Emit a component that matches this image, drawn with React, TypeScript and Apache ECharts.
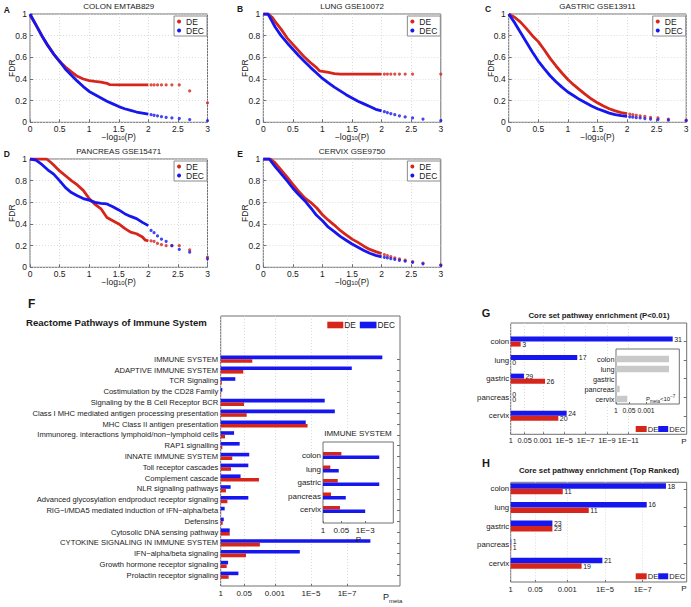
import React, { useEffect, useRef } from 'react';
import * as echarts from 'echarts';

const FONT = '"Liberation Sans", Arial, Helvetica, sans-serif';
const RED = '#d6261c';
const BLUE = '#1616ee';
const GREY = '#c9c9c9';
const FRAME = '#707070';
const INK = '#1a1a1a';

type Pt = [number, number];

// ---------- Panels A-E: FDR vs -log10(P) ----------
const colonDE: Pt[] = [[0,0.99],[0.1,0.9],[0.2,0.8],[0.3,0.71],[0.4,0.63],[0.5,0.56],[0.6,0.51],[0.7,0.465],[0.8,0.425],[0.9,0.4],[1.0,0.385],[1.1,0.377],[1.2,0.37],[1.3,0.36],[1.35,0.347],[1.5,0.345],[1.7,0.345],[1.9,0.345],[2.0,0.345],[2.046,0.345],[2.097,0.345],[2.155,0.345],[2.222,0.345],[2.301,0.345],[2.398,0.345],[2.523,0.345],[2.699,0.29],[3,0.18]];
const colonDEC: Pt[] = [[0,1],[0.1,0.9],[0.2,0.8],[0.3,0.71],[0.4,0.63],[0.5,0.565],[0.6,0.49],[0.7,0.435],[0.8,0.38],[0.9,0.33],[1.0,0.285],[1.1,0.255],[1.2,0.225],[1.3,0.195],[1.4,0.17],[1.5,0.145],[1.6,0.125],[1.7,0.11],[1.8,0.095],[1.9,0.085],[2.0,0.075],[2.046,0.07],[2.097,0.065],[2.155,0.06],[2.222,0.052],[2.301,0.045],[2.398,0.04],[2.523,0.035],[2.699,0.025],[3,0.015]];
const lungDE: Pt[] = [[0,1],[0.08,1],[0.15,0.97],[0.2,0.93],[0.3,0.86],[0.4,0.78],[0.5,0.72],[0.6,0.66],[0.7,0.6],[0.8,0.55],[0.9,0.505],[0.95,0.475],[1.0,0.47],[1.1,0.46],[1.2,0.45],[1.3,0.445],[1.5,0.445],[1.7,0.445],[1.9,0.445],[2.0,0.445],[2.046,0.445],[2.097,0.445],[2.155,0.445],[2.222,0.445],[2.301,0.445],[2.398,0.445],[2.523,0.445],[3,0.445]];
const lungDEC: Pt[] = [[0,1],[0.08,1],[0.15,0.93],[0.2,0.88],[0.3,0.8],[0.4,0.735],[0.5,0.675],[0.6,0.615],[0.7,0.56],[0.8,0.505],[0.9,0.455],[1.0,0.405],[1.1,0.365],[1.2,0.325],[1.3,0.29],[1.4,0.255],[1.5,0.225],[1.6,0.195],[1.7,0.17],[1.8,0.145],[1.9,0.12],[2.0,0.105],[2.046,0.098],[2.097,0.09],[2.155,0.08],[2.222,0.07],[2.301,0.06],[2.398,0.05],[2.523,0.04],[2.699,0.03],[3,0.015]];
const gastricDE: Pt[] = [[0,1],[0.1,0.97],[0.2,0.925],[0.3,0.865],[0.4,0.8],[0.5,0.745],[0.6,0.67],[0.7,0.59],[0.8,0.52],[0.9,0.455],[1.0,0.395],[1.1,0.345],[1.2,0.3],[1.3,0.255],[1.4,0.215],[1.5,0.18],[1.6,0.15],[1.7,0.125],[1.8,0.105],[1.9,0.09],[2.0,0.08],[2.046,0.075],[2.097,0.07],[2.155,0.065],[2.222,0.06],[2.301,0.055],[2.398,0.045],[2.523,0.04],[2.699,0.03],[3,0.02]];
const gastricDEC: Pt[] = [[0,1],[0.1,0.92],[0.2,0.83],[0.3,0.74],[0.4,0.65],[0.5,0.565],[0.6,0.495],[0.7,0.43],[0.8,0.375],[0.9,0.325],[1.0,0.28],[1.1,0.245],[1.2,0.21],[1.3,0.18],[1.4,0.15],[1.5,0.125],[1.6,0.105],[1.7,0.085],[1.8,0.07],[1.9,0.062],[2.0,0.055],[2.046,0.05],[2.097,0.047],[2.155,0.043],[2.222,0.04],[2.301,0.035],[2.398,0.03],[2.523,0.025],[2.699,0.02],[3,0.015]];
const pancreasDE: Pt[] = [[0,1],[0.28,1],[0.35,0.97],[0.4,0.945],[0.5,0.89],[0.6,0.845],[0.7,0.8],[0.8,0.76],[0.9,0.71],[1.0,0.635],[1.1,0.58],[1.2,0.54],[1.3,0.46],[1.4,0.43],[1.5,0.4],[1.6,0.36],[1.7,0.325],[1.8,0.31],[1.9,0.28],[1.95,0.25],[2.0,0.245],[2.046,0.245],[2.097,0.24],[2.155,0.22],[2.222,0.21],[2.301,0.2],[2.398,0.2],[2.523,0.2],[2.699,0.16],[3,0.095]];
const pancreasDEC: Pt[] = [[0,1],[0.1,0.99],[0.2,0.95],[0.3,0.9],[0.4,0.86],[0.5,0.8],[0.6,0.735],[0.7,0.69],[0.8,0.66],[0.9,0.635],[1.0,0.62],[1.1,0.6],[1.2,0.59],[1.3,0.585],[1.4,0.56],[1.5,0.53],[1.6,0.495],[1.7,0.47],[1.8,0.45],[1.9,0.415],[2.0,0.385],[2.046,0.34],[2.097,0.32],[2.155,0.29],[2.222,0.26],[2.301,0.24],[2.398,0.2],[2.523,0.165],[2.699,0.14],[3,0.078]];
const cervixDE: Pt[] = [[0,1],[0.12,1],[0.2,0.965],[0.3,0.9],[0.4,0.835],[0.5,0.765],[0.6,0.7],[0.7,0.64],[0.8,0.6],[0.9,0.55],[1.0,0.485],[1.1,0.435],[1.2,0.39],[1.3,0.34],[1.4,0.3],[1.5,0.26],[1.6,0.23],[1.7,0.195],[1.8,0.165],[1.9,0.145],[2.0,0.127],[2.046,0.118],[2.097,0.108],[2.155,0.098],[2.222,0.088],[2.301,0.078],[2.398,0.066],[2.523,0.053],[2.699,0.038],[3,0.022]];
const cervixDEC: Pt[] = [[0,1],[0.1,1],[0.2,0.93],[0.3,0.865],[0.4,0.8],[0.5,0.73],[0.6,0.67],[0.7,0.615],[0.8,0.55],[0.9,0.48],[1.0,0.43],[1.1,0.37],[1.2,0.33],[1.3,0.285],[1.4,0.25],[1.5,0.215],[1.6,0.185],[1.7,0.155],[1.8,0.13],[1.9,0.11],[2.0,0.097],[2.046,0.092],[2.097,0.086],[2.155,0.08],[2.222,0.073],[2.301,0.065],[2.398,0.056],[2.523,0.046],[2.699,0.032],[3,0.018]];

const fdrXTicks = [0, 0.5, 1, 1.5, 2, 2.5, 3];

// ---------- Panel F: Reactome pathways (-log10 Pmeta) ----------
const pathways = [
  'IMMUNE SYSTEM',
  'ADAPTIVE IMMUNE SYSTEM',
  'TCR Signaling',
  'Costimulation by the CD28 Family',
  'Signaling by the B Cell Receptor BCR',
  'Class I MHC mediated antigen processing presentation',
  'MHC Class II antigen presentation',
  'Immunoreg. interactions lymphoid/non\u2212lymphoid cells',
  'RAP1 signalling',
  'INNATE IMMUNE SYSTEM',
  'Toll receptor cascades',
  'Complement cascade',
  'NLR signaling pathways',
  'Advanced glycosylation endproduct receptor signaling',
  'RIG\u2212I/MDA5 mediated induction of IFN\u2212alpha/beta',
  'Defensins',
  'Cytosolic DNA sensing pathway',
  'CYTOKINE SIGNALING IN IMMUNE SYSTEM',
  'IFN\u2212alpha/beta signaling',
  'Growth hormone receptor signaling',
  'Prolactin receptor signaling',
];
const pathwayDE = [1.75,1.25,0.06,0.02,1.29,1.44,4.81,0.24,0.09,0.64,0.57,2.12,0.29,0.37,0.02,0.11,0.5,2.17,1.4,0.33,0.44];
const pathwayDEC = [8.95,7.26,0.81,0.09,5.76,6.32,4.71,0.74,1.05,1.58,1.53,1.1,0.55,1.53,0.22,0.17,0.5,8.29,4.38,0.41,0.98];
const pTicks = [0, 1.30103, 3, 5, 7];
const pTickLabels = ['1', '0.05', '0.001', '1E\u22125', '1E\u22127'];

// inset of F: IMMUNE SYSTEM per tissue
const tissues = ['colon', 'lung', 'gastric', 'pancreas', 'cervix'];
const immuneDE = [1.31, 0.52, 1.05, 0.57, 1.21];
const immuneDEC = [4.0, 1.12, 4.0, 1.62, 3.0];
const insetTicks = [0, 1.30103, 3];
const insetTickLabelsF = ['1', '0.05', '1E\u22123'];
const insetTickLabelsG = ['1', '0.05', '0.001'];

// ---------- Panel G: core set enrichment (P<0.01) ----------
const coreDE01 = [0.93, 0, 3.21, 0, 4.45];
const coreDEC01 = [15.14, 6.22, 1.24, 0, 5.23];
const countDE01 = [3, 0, 26, 0, 20];
const countDEC01 = [31, 17, 29, 0, 24];
const gTicks = [0, 1.30103, 3, 5, 7, 9, 11];
const gTickLabels = ['1', '0.05', '0.001', '1E\u22125', '1E\u22127', '1E\u22129', '1E\u221211'];
const metaBelow7 = [5.3, 5.3, 0, 0.37, 1.13];

// ---------- Panel H: core set enrichment (Top Ranked) ----------
const coreDETop = [2.76, 4.14, 2.21, 0.03, 3.76];
const coreDECTop = [8.23, 7.21, 2.21, 0.03, 4.86];
const countDETop = [11, 11, 23, 1, 19];
const countDECTop = [18, 16, 23, 1, 21];

const legendNames = ['DE', 'DEC'];

function buildOption() {
  const grids: any[] = [];
  const xAxes: any[] = [];
  const yAxes: any[] = [];
  const series: any[] = [];
  const legends: any[] = [];
  const graphics: any[] = [];

  const text = (x: number, y: number, t: string, o: any = {}) => {
    graphics.push({
      type: 'text', x, y, z: 50, rotation: o.rotation || 0,
      style: {
        text: t, fill: INK,
        fontFamily: FONT, fontSize: o.size || 8, fontWeight: o.bold ? 'bold' : 'normal',
        align: o.align || 'center', textAlign: o.align || 'center',
        verticalAlign: 'middle', textVerticalAlign: 'middle',
        rich: o.rich,
      },
    });
  };
  const rect = (x: number, y: number, w: number, h: number, fill: string) => {
    graphics.push({ type: 'rect', z: 50, shape: { x, y, width: w, height: h }, style: { fill } });
  };

  // ----- scatter panels -----
  const W = 177.5, H = 108.3;
  const sp = [
    { L: 'A', title: 'COLON EMTAB829', de: colonDE, dec: colonDEC, left: 30, top: 14, lx: 6.7, ly: 10 },
    { L: 'B', title: 'LUNG GSE10072', de: lungDE, dec: lungDEC, left: 263.3, top: 14, lx: 240, ly: 9 },
    { L: 'C', title: 'GASTRIC GSE13911', de: gastricDE, dec: gastricDEC, left: 508.7, top: 14, lx: 488, ly: 9 },
    { L: 'D', title: 'PANCREAS GSE15471', de: pancreasDE, dec: pancreasDEC, left: 30, top: 159, lx: 6.7, ly: 154 },
    { L: 'E', title: 'CERVIX GSE9750', de: cervixDE, dec: cervixDEC, left: 263.3, top: 159, lx: 240, ly: 153.5 },
  ];
  sp.forEach((p) => {
    const gi = grids.length;
    grids.push({ left: p.left, top: p.top, width: W, height: H, show: true, borderColor: FRAME, borderWidth: 1, outerBoundsMode: 'none' });
    xAxes.push({
      gridIndex: gi, type: 'value', min: fdrXTicks[0], max: fdrXTicks[fdrXTicks.length - 1], interval: 0.5,
      axisLine: { show: false },
      axisTick: { show: true, inside: true, length: 3, lineStyle: { color: FRAME } },
      axisLabel: { fontFamily: FONT, fontSize: 8.5, color: INK, margin: 2 },
      splitLine: { show: true, lineStyle: { color: '#d4d4d4', type: [1, 2], width: 0.8 } },
    });
    yAxes.push({
      gridIndex: gi, type: 'value', min: 0, max: 1, interval: 0.2,
      axisLine: { show: false },
      axisTick: { show: true, inside: true, length: 3, lineStyle: { color: FRAME } },
      axisLabel: { fontFamily: FONT, fontSize: 8.5, color: INK, margin: 3 },
      splitLine: { show: true, lineStyle: { color: '#d4d4d4', type: [1, 2], width: 0.8 } },
    });
    const curves: [string, Pt[], string][] = [[legendNames[0], p.de, RED], [legendNames[1], p.dec, BLUE]];
    curves.forEach(([name, pts, color]) => {
      series.push({
        type: 'line', name, xAxisIndex: gi, yAxisIndex: gi,
        data: pts.filter((q) => q[0] <= 2.0001), showSymbol: false, symbol: 'none',
        lineStyle: { color, width: 2.8 }, itemStyle: { color }, silent: true, z: 3,
      });
      series.push({
        type: 'scatter', name, xAxisIndex: gi, yAxisIndex: gi,
        data: pts.filter((q) => q[0] > 2.0001), symbol: 'circle', symbolSize: 3.2,
        itemStyle: { color }, silent: true, z: 3,
      });
    });
    legends.push({
      data: legendNames, orient: 'vertical', right: 691 - (p.left + W) + 0.5, top: p.top + 2,
      icon: 'circle', itemWidth: 4, itemHeight: 4, itemGap: 0, padding: [1, 3, 1, 3],
      borderColor: '#8a8a8a', borderWidth: 1, backgroundColor: '#fff', selectedMode: false,
      textStyle: { fontFamily: FONT, fontSize: 8.5, color: INK, lineHeight: 8 }, z: 10,
    });
    text(p.left + W / 2, p.top - 8, p.title, { size: 8 });
    text(p.lx, p.ly, p.L, { size: 8.5, bold: true });
    text(p.left - 18, p.top + H / 2, 'FDR', { size: 8.5, rotation: Math.PI / 2 });
    text(p.left + W / 2, p.top + H + 14.5, '{a|\u2212log}{s|10}{a|(P)}', {
      rich: {
        a: { fontFamily: FONT, fontSize: 8.5, lineHeight: 9, fill: INK, verticalAlign: 'top' },
        s: { fontFamily: FONT, fontSize: 6, lineHeight: 6, fill: INK, verticalAlign: 'bottom' },
      },
    });
  });

  // ----- bar panels -----
  type BarSer = { name: string; data: number[]; color: string; labels?: number[]; dy?: number };
  const barPanel = (c: {
    l: number; t: number; r: number; b: number; ymax: number; firstPos: number; cats: string[];
    xmax: number; ticks: number[]; tickLabels: string[]; grid: boolean; sers: BarSer[]; barWidth: number;
    rightTicks: boolean; catSize: number; catMargin: number; z: number; bg?: string; tickSize: number;
  }) => {
    const fi = grids.length;
    grids.push({ left: c.l, top: c.t, width: c.r - c.l, height: c.b - c.t, show: true, borderColor: FRAME, borderWidth: 1, backgroundColor: c.bg || 'transparent', z: c.z, outerBoundsMode: 'none' });
    xAxes.push({
      gridIndex: fi, type: 'value', min: 0, max: c.xmax, z: c.z,
      axisLine: { show: false },
      axisTick: { show: true, inside: true, length: 2, customValues: c.ticks, lineStyle: { color: FRAME } },
      axisLabel: {
        customValues: c.ticks, fontFamily: FONT, fontSize: c.tickSize, color: INK, margin: 3, hideOverlap: false,
        formatter: (v: number) => {
          const i = c.ticks.findIndex((tv) => Math.abs(tv - v) < 1e-6);
          return i >= 0 ? c.tickLabels[i] : '';
        },
      },
      splitLine: { show: c.grid, lineStyle: { color: '#d4d4d4', type: [1, 2], width: 0.8 } },
    });
    yAxes.push({ gridIndex: fi, type: 'value', min: 0, max: c.ymax, show: false });
    // data grid
    const s = (c.b - c.t) / c.ymax;
    const n = c.cats.length;
    const bottomY = c.b - (c.firstPos - 0.5) * s;
    const di = grids.length;
    grids.push({ left: c.l, top: bottomY - n * s, width: c.r - c.l, height: n * s, show: false, z: c.z, outerBoundsMode: 'none' });
    xAxes.push({ gridIndex: di, type: 'value', min: 0, max: c.xmax, show: false });
    const yi = yAxes.length;
    yAxes.push({
      gridIndex: di, type: 'category', data: c.cats, inverse: true, z: c.z,
      axisLine: { show: false }, axisTick: { show: false },
      axisLabel: { interval: 0, hideOverlap: false, fontFamily: FONT, fontSize: c.catSize, color: INK, margin: c.catMargin },
    });
    if (c.rightTicks) {
      yAxes.push({
        gridIndex: di, type: 'category', data: c.cats, inverse: true, position: 'right', z: c.z,
        axisLine: { show: false }, axisLabel: { show: false },
        axisTick: { show: true, inside: true, alignWithLabel: true, interval: 0, length: 3, lineStyle: { color: FRAME } },
      });
    }
    c.sers.forEach((se) => {
      series.push({
        type: 'bar', name: se.name, xAxisIndex: xAxes.length - 1, yAxisIndex: yi,
        data: se.data, barWidth: c.barWidth, barGap: '0%', silent: true, z: c.z + 2,
        itemStyle: { color: se.color },
        labelLayout: { hideOverlap: false },
        label: se.labels
          ? {
              show: true, position: 'right', distance: 1.5, offset: [0, se.dy || 0],
              fontFamily: FONT, fontSize: 7, lineHeight: 7, color: INK,
              formatter: (pp: any) => String(se.labels![pp.dataIndex]),
            }
          : { show: false },
      });
    });
  };

  // manual bar legend (tight spacing as in the figure)
  const barLegend = (x: number, cy: number, w1: number, w2: number, h: number, fs: number, tw: number) => {
    rect(x, cy - h / 2, w1, h, RED);
    text(x + w1 + 1, cy, legendNames[0], { size: fs, align: 'left' });
    const x2 = x + w1 + 1 + tw;
    rect(x2, cy - h / 2, w2, h, BLUE);
    text(x2 + w2 + 1, cy, legendNames[1], { size: fs, align: 'left' });
  };

  // F main
  barPanel({
    l: 220.7, t: 316, r: 400, b: 586, ymax: 25, firstPos: 1, cats: pathways, xmax: 9.93,
    ticks: pTicks, tickLabels: pTickLabels, grid: true, barWidth: 3.6, rightTicks: true,
    catSize: 7.6, catMargin: 2.5, z: 1, tickSize: 8,
    sers: [
      { name: 'DEC', data: pathwayDEC, color: BLUE },
      { name: 'DE', data: pathwayDE, color: RED },
    ],
  });
  barLegend(327.3, 325, 16, 16.7, 6.6, 8.3, 15.5);
  text(31.7, 304, 'F', { size: 12, bold: true });
  text(26, 322, 'Reactome Pathways of Immune System', { size: 9.6, bold: true, align: 'left' });
  text(383, 597, '{p|P}{s|meta}', {
    align: 'left',
    rich: {
      p: { fontFamily: FONT, fontSize: 9, fill: INK },
      s: { fontFamily: FONT, fontSize: 6, fill: INK, padding: [8, 0, 0, 0] },
    },
  });

  // F inset
  barPanel({
    l: 323, t: 442, r: 393.3, b: 523, ymax: 6, firstPos: 1, cats: tissues, xmax: 5,
    ticks: insetTicks, tickLabels: insetTickLabelsF, grid: false, barWidth: 3.5, rightTicks: false,
    catSize: 8, catMargin: 2, z: 6, bg: '#fff', tickSize: 8,
    sers: [
      { name: 'DE', data: immuneDE, color: RED },
      { name: 'DEC', data: immuneDEC, color: BLUE },
    ],
  });
  text(358, 433, 'IMMUNE SYSTEM', { size: 8 });
  text(358.3, 539, 'P', { size: 8 });

  // G
  barPanel({
    l: 510.7, t: 323, r: 686.7, b: 434.3, ymax: 6, firstPos: 1, cats: tissues, xmax: 16.45,
    ticks: gTicks, tickLabels: gTickLabels, grid: true, barWidth: 5, rightTicks: true,
    catSize: 7.8, catMargin: 1.5, z: 1, tickSize: 7.4,
    sers: [
      { name: 'DEC', data: coreDEC01, color: BLUE, labels: countDEC01, dy: -0.6 },
      { name: 'DE', data: coreDE01, color: RED, labels: countDE01, dy: 4 },
    ],
  });
  barLegend(635.7, 429, 11, 10, 6, 7.6, 10.5);
  text(599, 315, 'Core set pathway enrichment (P<0.01)', { size: 7.8, bold: true });
  text(684, 441, 'P', { size: 8 });

  // G inset
  barPanel({
    l: 616, t: 349, r: 679.3, b: 404, ymax: 5.5, firstPos: 0.5, cats: tissues, xmax: 6.33,
    ticks: insetTicks, tickLabels: insetTickLabelsG, grid: false, barWidth: 6.5, rightTicks: false,
    catSize: 7.3, catMargin: 1.5, z: 6, bg: '#fff', tickSize: 6.8,
    sers: [{ name: 'Pmeta<1E-7', data: metaBelow7, color: GREY }],
  });
  text(646, 399, '{p|P}{s|meta}{p|<10}{u|\u22127}', {
    align: 'left',
    rich: {
      p: { fontFamily: FONT, fontSize: 6, fill: INK },
      s: { fontFamily: FONT, fontSize: 4.5, fill: INK, padding: [5, 0, 0, 0] },
      u: { fontFamily: FONT, fontSize: 4.5, fill: INK, padding: [0, 0, 5, 0] },
    },
  });

  // H
  barPanel({
    l: 510.7, t: 482.3, r: 686.7, b: 582, ymax: 5.35, firstPos: 1, cats: tissues, xmax: 9.33,
    ticks: pTicks, tickLabels: pTickLabels, grid: true, barWidth: 5.5, rightTicks: true,
    catSize: 7.8, catMargin: 1.5, z: 1, tickSize: 7.6,
    sers: [
      { name: 'DEC', data: coreDECTop, color: BLUE, labels: countDECTop, dy: -0.8 },
      { name: 'DE', data: coreDETop, color: RED, labels: countDETop, dy: 1.5 },
    ],
  });
  barLegend(635.7, 576.3, 11, 10, 6, 7.6, 10.5);
  text(599, 470.7, 'Core set pathway enrichment (Top Ranked)', { size: 7.8, bold: true });
  text(684, 588.5, 'P', { size: 8 });

  text(486, 313, 'G', { size: 11, bold: true });
  text(486, 463, 'H', { size: 11, bold: true });

  return {
    animation: false,
    backgroundColor: '#fff',
    textStyle: { fontFamily: FONT },
    grid: grids,
    xAxis: xAxes,
    yAxis: yAxes,
    legend: legends,
    series,
    graphic: { elements: graphics },
  };
}

export default function App() {
  const ref = useRef<HTMLDivElement>(null);
  useEffect(() => {
    const chart = echarts.init(ref.current!, null, { renderer: 'svg' });
    chart.setOption(buildOption() as any);
    return () => chart.dispose();
  }, []);
  return (
    <div
      ref={ref}
      style={{ position: 'absolute', left: 0, top: 0, width: 691, height: 607, background: '#fff' }}
    />
  );
}
